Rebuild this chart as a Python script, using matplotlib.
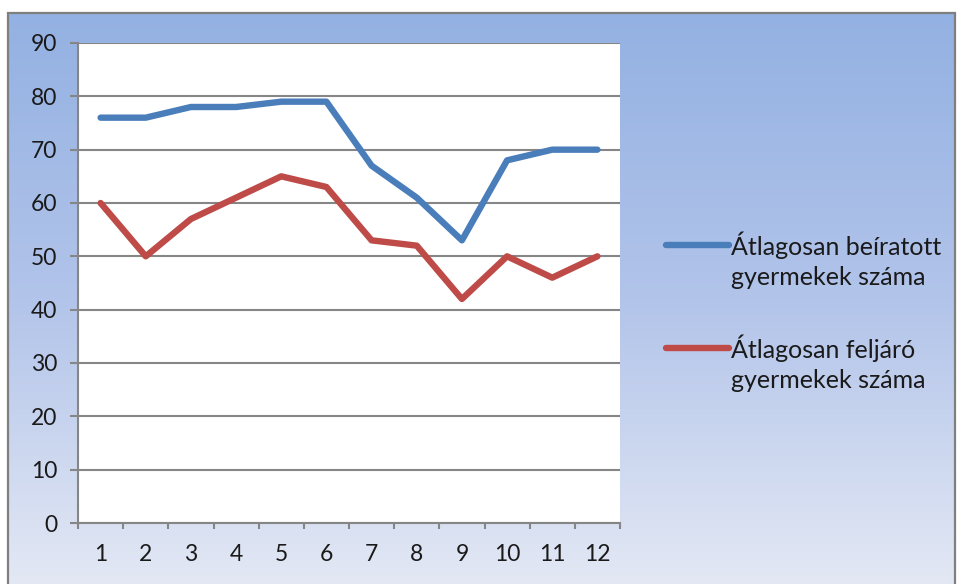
import numpy as np
import matplotlib
matplotlib.use("Agg")
import matplotlib.pyplot as plt
from matplotlib.colors import LinearSegmentedColormap
from matplotlib.patches import Rectangle

# adatok
honapok = [str(i) for i in range(1, 13)]
beiratott = [76, 76, 78, 78, 79, 79, 67, 61, 53, 68, 70, 70]
feljaro = [60, 50, 57, 61, 65, 63, 53, 52, 42, 50, 46, 50]
cimkek = ["Átlagosan beíratott\ngyermekek száma", "Átlagosan feljáró\ngyermekek száma"]
yticks = list(range(0, 100, 10))

plt.rcParams['font.family'] = ['Lato', 'DejaVu Sans']

W, H = 958, 584
fig = plt.figure(figsize=(W / 100, H / 100), dpi=100)
fig.patch.set_facecolor("white")

# háttér színátmenet a keret belsejében
bx0, by0, bx1, by1 = 8 / W, 0.0, 955 / W, 1 - 13 / H
bg = fig.add_axes([bx0, by0, bx1 - bx0, by1 - by0], zorder=-5)
cmap = LinearSegmentedColormap.from_list("bg", ["#93b1e2", "#b2c4ea", "#e3e8f4"])
grad = np.linspace(0, 1, 256).reshape(-1, 1)
bg.imshow(grad, aspect="auto", cmap=cmap, extent=[0, 1, 0, 1])
bg.axis("off")
fig.patches.append(Rectangle((bx0, by0 - 0.01), bx1 - bx0, by1 - by0 + 0.01,
                             transform=fig.transFigure, fill=False,
                             edgecolor="#7f7f7f", linewidth=1.6, zorder=10))

ax = fig.add_axes([78 / W, 1 - 523 / H, (620 - 78) / W, (523 - 43) / H])
ax.set_facecolor("white")
x = np.arange(1, 13)
ax.plot(x, beiratott, color="#4a7ebb", linewidth=4.6, solid_joinstyle="round",
        solid_capstyle="round", label=cimkek[0], zorder=3)
ax.plot(x, feljaro, color="#be4b48", linewidth=4.6, solid_joinstyle="round",
        solid_capstyle="round", label=cimkek[1], zorder=3)

ax.set_xlim(0.5, 12.5)
ax.set_ylim(0, 90)
ax.set_yticks(yticks)
ax.set_xticks(x)
ax.set_xticklabels(honapok)
ax.set_xticks(np.arange(0.5, 13, 1), minor=True)
ax.grid(axis="y", color="#868686", linewidth=1.5)
ax.set_axisbelow(True)
for s in ["top", "right"]:
    ax.spines[s].set_visible(False)
for s in ["left", "bottom"]:
    ax.spines[s].set_color("#868686")
    ax.spines[s].set_linewidth(1.5)
ax.tick_params(axis="y", length=6, width=1.5, color="#868686", pad=9,
               labelsize=16.5, labelcolor="#1a1a1a")
ax.tick_params(axis="x", which="major", length=0, pad=15, labelsize=16.5,
               labelcolor="#1a1a1a")
ax.tick_params(axis="x", which="minor", length=4, width=1.5, color="#868686")

leg = ax.legend(loc="upper left", bbox_to_anchor=(666 / W, 1 - 231 / H),
                bbox_transform=fig.transFigure, frameon=False, fontsize=18,
                handlelength=2.5, handletextpad=0.1, labelspacing=1.8,
                borderpad=0, borderaxespad=0)
for t in leg.get_texts():
    t.set_linespacing(1.4)
    t.set_color("#1a1a1a")
for h in leg.legend_handles:
    h.set_ydata(np.asarray(h.get_ydata()) + 11.5)

fig.savefig("out.png", dpi=100)
